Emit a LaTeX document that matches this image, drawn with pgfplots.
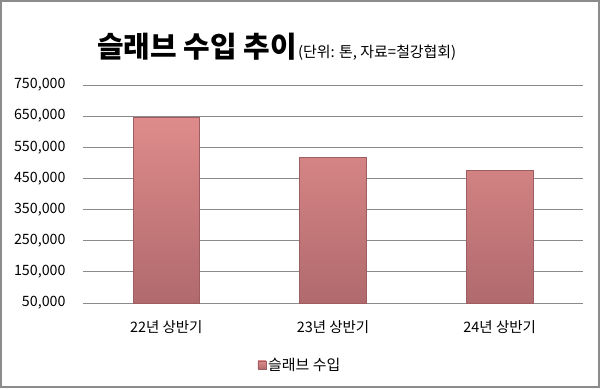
\documentclass[border=0pt]{standalone}
\usepackage{pgfplots}
\pgfplotsset{compat=1.18}
\usepackage{fontspec}
\setmainfont{Noto Sans CJK KR}
\definecolor{bartop}{HTML}{DF8B8B}
\definecolor{barbot}{HTML}{B06A6D}
\definecolor{barline}{HTML}{9E5E61}
\definecolor{gridc}{HTML}{8A8A8A}
\definecolor{framec}{HTML}{8C8C8C}
\begin{document}
\begin{tikzpicture}[x=1bp,y=1bp]
\fill[white] (0,0) rectangle (600,388);
\draw[framec, line width=2bp] (1,1) rectangle (599,387);
\node[anchor=base, inner sep=0pt, font=\fontsize{29}{31}\selectfont\bfseries] at (197,331) (t) {슬래브 수입 추이};
\node[anchor=base west, inner sep=0pt, font=\fontsize{15}{17}\selectfont] at ([xshift=1bp]t.base east) {(단위: 톤, 자료=철강협회)};
\begin{axis}[
  at={(83bp,85bp)}, anchor=south west,
  scale only axis, width=500bp, height=218bp,
  xmin=-0.5, xmax=2.5, ymin=50000, ymax=750000,
  ytick={50000,150000,...,750000},
  scaled y ticks=false,
  xtick={0,1,2},
  xticklabels={22년 상반기,23년 상반기,24년 상반기},
  axis line style={draw=none},
  tick style={draw=none},
  ymajorgrids, grid style={gridc, line width=1bp},
  /pgf/number format/.cd, fixed, precision=0, 1000 sep={,}, assume math mode=true,
  /pgfplots/.cd,
  yticklabel style={font=\fontsize{14.3}{16}\selectfont, xshift=-14bp},
  xticklabel style={font=\fontsize{14.5}{16}\selectfont, yshift=-14bp},
  legend style={at={(0.434,-0.284)}, anchor=center, draw=none, fill=none,
    font=\fontsize{15}{17}\selectfont, inner sep=0pt},
  legend image code/.code={\fill[top color=bartop, bottom color=barbot, draw=barline, line width=0.5bp] (0bp,-4bp) rectangle (8bp,4bp);},
]
\addplot[ybar, bar width=0.4, top color=bartop, bottom color=barbot, draw=barline, line width=1bp]
  coordinates {(0,647000) (1,516700) (2,476500)};
\addlegendentry{슬래브 수입}
\end{axis}
\end{tikzpicture}
\end{document}
